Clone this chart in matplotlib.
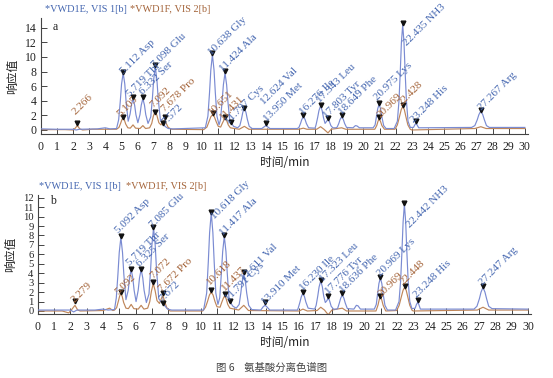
import matplotlib
matplotlib.use("Agg")
import matplotlib.pyplot as plt

# ---------------- data ----------------
# Panel a, VIS 1 (blue) trace: (time min, response)
a_blue = [(0, 0.15), (1, 0.1), (2, 0.1), (2.2, 0.0), (2.4, 0.1), (3.5, 0.15), (4.0, 0.3), (4.3, 0.15), (4.7, 0.2),
          (4.83, 1.4), (4.93, 3.9), (5.01, 6.3), (5.11, 7.8), (5.21, 6.3), (5.29, 3.9), (5.42, 1.2),
          (5.54, 2.2), (5.62, 3.4), (5.72, 4.3), (5.82, 3.4), (5.9, 2.1), (6.02, 1.0),
          (6.15, 2.1), (6.23, 3.4), (6.33, 4.3), (6.43, 3.4), (6.51, 2.1), (6.65, 0.9),
          (6.82, 1.8), (6.92, 4.3), (7.0, 6.9), (7.10, 8.6), (7.2, 6.9), (7.28, 4.3), (7.42, 1.3),
          (7.57, 0.95), (7.7, 0.5), (7.9, 0.2), (8.2, 0.15), (10.2, 0.3),
          (10.36, 1.9), (10.46, 5.1), (10.54, 8.2), (10.64, 10.3), (10.74, 8.2), (10.82, 5.1), (10.92, 1.9),
          (11.05, 0.7), (11.14, 1.4), (11.24, 3.9), (11.32, 6.2), (11.42, 7.8), (11.52, 6.2), (11.6, 3.9),
          (11.7, 1.6), (11.8, 1.0), (11.95, 0.5), (12.2, 0.3),
          (12.34, 0.6), (12.44, 1.5), (12.52, 2.4), (12.62, 3.0), (12.72, 2.4), (12.8, 1.5), (12.92, 0.5),
          (13.1, 0.2), (13.7, 0.2), (13.85, 0.45), (13.95, 0.6), (14.05, 0.45), (14.2, 0.2), (15.9, 0.2),
          (16.0, 0.35), (16.1, 0.9), (16.18, 1.45), (16.28, 1.8), (16.38, 1.45), (16.46, 0.9), (16.6, 0.3),
          (17.0, 0.25), (17.06, 0.7), (17.16, 1.7), (17.24, 2.65), (17.34, 3.3), (17.44, 2.65), (17.52, 1.7),
          (17.62, 0.9), (17.72, 1.2), (17.80, 1.5), (17.88, 1.2), (17.98, 0.6), (18.1, 0.3), (18.3, 0.3),
          (18.37, 0.4), (18.47, 0.9), (18.55, 1.45), (18.65, 1.8), (18.75, 1.45), (18.83, 0.9), (18.95, 0.35),
          (19.35, 0.3), (19.5, 0.6), (19.6, 0.55), (19.75, 0.3), (20.6, 0.3),
          (20.72, 0.7), (20.8, 1.8), (20.88, 2.9), (20.97, 3.5), (21.06, 2.9), (21.14, 1.8), (21.25, 0.6),
          (21.4, 0.2), (21.9, 0.2),
          (22.1, 1.2), (22.2, 4.0), (22.28, 8.0), (22.35, 12.0), (22.43, 14.4), (22.51, 12.0), (22.58, 8.0),
          (22.66, 4.0), (22.76, 1.2), (22.9, 0.35),
          (23.1, 0.35), (23.18, 0.7), (23.25, 0.9), (23.32, 0.7), (23.42, 0.3), (26.7, 0.35),
          (26.9, 0.6), (27.05, 1.4), (27.15, 2.1), (27.27, 2.6), (27.39, 2.1), (27.49, 1.4), (27.62, 0.6),
          (27.8, 0.35), (30, 0.35)]

# Panel a, VIS 2 (brown) trace
a_brown = [(0, 0.05), (1.5, 0.05), (2.0, 0.0), (2.12, 0.2), (2.27, 0.6), (2.42, 0.15), (2.6, 0.0), (3.2, 0.1),
           (4.0, 0.1), (4.7, 0.1),
           (4.85, 0.35), (4.95, 0.9), (5.03, 1.4), (5.1, 1.7), (5.18, 1.4), (5.27, 0.8), (5.4, 0.3),
           (5.55, 0.25), (5.72, 0.7), (5.88, 0.25), (6.15, 0.2), (6.33, 0.6), (6.5, 0.2),
           (6.75, 0.3), (6.88, 0.9), (6.98, 1.9), (7.09, 2.6), (7.2, 2.0), (7.32, 1.0), (7.45, 0.7),
           (7.6, 1.2), (7.68, 1.4), (7.78, 0.9), (7.9, 0.35), (8.1, 0.1), (10.1, 0.05),
           (10.3, 0.4), (10.42, 1.1), (10.54, 1.8), (10.65, 2.1), (10.76, 1.8), (10.88, 1.1), (11.0, 0.5),
           (11.15, 0.4), (11.25, 0.9), (11.35, 1.35), (11.43, 1.6), (11.52, 1.3), (11.62, 0.7), (11.75, 0.3),
           (12.3, 0.1), (12.62, 0.5), (12.9, 0.1), (16.0, 0.1), (16.27, 0.25), (16.5, 0.1),
           (17.1, 0.1), (17.34, 0.45), (17.55, 0.1), (17.8, -0.4), (18.0, 0.1), (18.65, 0.3), (18.9, 0.1),
           (20.7, 0.1), (20.82, 0.6), (20.9, 1.2), (20.97, 1.5), (21.05, 1.2), (21.14, 0.6), (21.3, 0.1),
           (21.95, 0.1), (22.1, 0.7), (22.24, 1.9), (22.34, 2.8), (22.43, 3.2), (22.53, 2.8), (22.62, 1.9),
           (22.75, 0.7), (22.9, 0.1), (23.0, 0.0), (26.9, 0.2), (27.27, 0.45), (27.6, 0.2), (30, 0.2)]

# Panel b, VIS 1 (blue) trace
b_blue = [(0, 0.1), (1, 0.1), (2, 0.1), (2.2, -0.1), (2.4, 0.1), (3.5, 0.1), (4.0, 0.2), (4.3, 0.1), (4.7, 0.15),
          (4.81, 1.4), (4.91, 3.9), (4.99, 6.2), (5.09, 7.8), (5.19, 6.2), (5.27, 3.9), (5.4, 1.2),
          (5.54, 2.2), (5.62, 3.5), (5.72, 4.4), (5.82, 3.5), (5.9, 2.2), (6.02, 1.0),
          (6.15, 2.2), (6.23, 3.5), (6.33, 4.4), (6.43, 3.5), (6.51, 2.2), (6.65, 0.9),
          (6.81, 1.8), (6.91, 4.4), (6.99, 7.0), (7.09, 8.8), (7.19, 7.0), (7.27, 4.4), (7.41, 1.3),
          (7.6, 0.85), (7.67, 0.9), (7.8, 0.5), (7.95, 0.2), (8.2, 0.1), (10.15, 0.1),
          (10.34, 1.9), (10.44, 5.2), (10.52, 8.3), (10.62, 10.4), (10.72, 8.3), (10.8, 5.2), (10.9, 1.9),
          (11.03, 0.7), (11.14, 1.4), (11.24, 4.0), (11.32, 6.3), (11.42, 7.9), (11.52, 6.3), (11.6, 4.0),
          (11.7, 1.5), (11.79, 0.9), (11.95, 0.5), (12.15, 0.3),
          (12.33, 0.7), (12.43, 1.9), (12.51, 3.1), (12.61, 3.9), (12.71, 3.1), (12.79, 1.9), (12.91, 0.6),
          (13.1, 0.15), (13.65, 0.1), (13.8, 0.45), (13.91, 0.6), (14.02, 0.45), (14.2, 0.1), (15.9, 0.1),
          (15.95, 0.35), (16.05, 0.95), (16.13, 1.5), (16.23, 1.9), (16.33, 1.5), (16.41, 0.95), (16.55, 0.3),
          (16.95, 0.2), (17.04, 0.6), (17.14, 1.6), (17.22, 2.55), (17.32, 3.2), (17.42, 2.55), (17.5, 1.6),
          (17.6, 0.9), (17.7, 1.1), (17.78, 1.4), (17.86, 1.1), (17.96, 0.5), (18.1, 0.2), (18.3, 0.2),
          (18.36, 0.3), (18.46, 0.85), (18.54, 1.35), (18.64, 1.7), (18.74, 1.35), (18.82, 0.85), (18.95, 0.25),
          (19.35, 0.2), (19.5, 0.6), (19.6, 0.55), (19.75, 0.2), (20.6, 0.2),
          (20.72, 0.7), (20.8, 1.8), (20.88, 2.9), (20.97, 3.5), (21.06, 2.9), (21.14, 1.8), (21.25, 0.6),
          (21.4, 0.1), (21.9, 0.1),
          (22.11, 1.0), (22.21, 3.2), (22.29, 6.3), (22.36, 9.4), (22.44, 11.3), (22.52, 9.4), (22.59, 6.3),
          (22.67, 3.2), (22.77, 1.0), (22.9, 0.25),
          (23.1, 0.3), (23.18, 0.7), (23.25, 0.9), (23.32, 0.7), (23.42, 0.2), (26.7, 0.2),
          (26.88, 0.5), (27.03, 1.3), (27.13, 2.0), (27.25, 2.5), (27.37, 2.0), (27.47, 1.3), (27.6, 0.5),
          (27.8, 0.25), (30, 0.2)]

# Panel b, VIS 2 (brown) trace
b_brown = [(0, 0.0), (1.5, 0.0), (1.9, -0.2), (2.1, 0.2), (2.28, 0.6), (2.45, 0.1), (2.6, 0.0), (4.0, 0.05),
           (4.4, 0.3), (4.6, 0.05), (4.7, 0.1),
           (4.83, 0.35), (4.93, 1.0), (5.01, 1.55), (5.09, 1.9), (5.17, 1.55), (5.26, 0.9), (5.4, 0.3),
           (5.55, 0.25), (5.72, 0.7), (5.88, 0.25), (6.15, 0.2), (6.33, 0.6), (6.5, 0.2),
           (6.73, 0.3), (6.86, 1.0), (6.96, 2.1), (7.07, 2.9), (7.18, 2.2), (7.3, 1.1), (7.45, 0.8),
           (7.59, 1.4), (7.67, 1.6), (7.77, 1.0), (7.9, 0.35), (8.1, 0.0), (10.1, 0.0),
           (10.27, 0.4), (10.39, 1.0), (10.51, 1.7), (10.62, 2.0), (10.73, 1.7), (10.85, 1.0), (10.97, 0.45),
           (11.16, 0.4), (11.26, 0.9), (11.36, 1.35), (11.44, 1.6), (11.53, 1.3), (11.63, 0.7), (11.76, 0.3),
           (12.3, 0.1), (12.61, 0.6), (12.9, 0.05), (16.0, 0.0), (16.23, 0.2), (16.5, 0.0),
           (17.1, 0.05), (17.32, 0.4), (17.55, 0.1), (17.78, -0.4), (18.0, 0.1), (18.64, 0.3), (18.9, 0.0),
           (20.7, 0.0), (20.82, 0.6), (20.9, 1.2), (20.97, 1.5), (21.05, 1.2), (21.14, 0.6), (21.3, 0.0),
           (21.97, 0.05), (22.12, 0.6), (22.26, 1.55), (22.36, 2.2), (22.45, 2.5), (22.55, 2.2), (22.64, 1.55),
           (22.77, 0.6), (22.92, 0.05), (23.0, 0.0), (26.9, 0.1), (27.25, 0.4), (27.6, 0.1), (30, 0.1)]

# Marked peaks (retention time, marker height, label)
a_blue_rt = [5.112, 5.719, 6.332, 7.098, 7.572, 10.638, 11.424, 11.797, 12.624, 13.950, 16.276, 17.343,
             17.803, 18.649, 20.975, 22.435, 23.248, 27.267]
a_blue_mk = [7.9, 4.5, 4.5, 8.85, 0.9, 10.5, 8.1, 1.1, 3.0, 1.0, 2.05, 3.4, 1.7, 2.0, 3.65, 14.6, 1.2, 2.7]
a_blue_lab = ["5.112 Asp", "5.719 Thr", "6.332 Ser", "7.098 Glu", "7.572", "10.638 Gly", "11.424 Ala",
              "11.797 Cys", "12.624 Val", "13.950 Met", "16.276 Ile", "17.343 Leu", "17.803 Tyr",
              "18.649 Phe", "20.975 Lys", "22.435 NH3", "23.248 His", "27.267 Arg"]
a_brown_rt = [2.266, 5.105, 7.092, 7.678, 10.651, 11.431, 20.969, 22.428]
a_brown_mk = [0.95, 1.8, 2.4, 1.8, 2.3, 1.8, 1.75, 3.4]
a_brown_lab = ["2.266", "5.105", "7.092", "7.678 Pro", "10.651", "11.431", "20.969", "22.428"]

b_blue_rt = [5.092, 5.719, 6.325, 7.085, 7.672, 10.618, 11.417, 11.791, 12.611, 13.910, 16.230, 17.323,
             17.776, 18.636, 20.969, 22.442, 23.248, 27.247]
b_blue_mk = [7.9, 4.5, 4.5, 8.9, 0.9, 10.5, 8.0, 1.1, 4.1, 1.0, 2.05, 3.3, 1.6, 1.9, 3.6, 11.4, 1.15, 2.6]
b_blue_lab = ["5.092 Asp", "5.719 Thr", "6.325 Ser", "7.085 Glu", "7.672", "10.618 Gly", "11.417 Ala",
              "11.791 Cys", "12.611 Val", "13.910 Met", "16.230 Ile", "17.323 Leu", "17.776 Tyr",
              "18.636 Phe", "20.969 Lys", "22.442 NH3", "23.248 His", "27.247 Arg"]
b_brown_rt = [2.279, 5.092, 7.072, 7.672, 10.618, 11.437, 20.969, 22.448]
b_brown_mk = [1.05, 2.05, 3.1, 1.9, 2.2, 1.75, 1.6, 2.6]
b_brown_lab = ["2.279", "5.092", "7.072", "7.672 Pro", "10.618", "11.437", "20.969", "22.448"]

x_ticks = list(range(0, 31))
a_y_ticks = list(range(0, 15, 2))
b_y_ticks = list(range(0, 13))

# ---------------- layout / style ----------------
W, H = 553, 378
BLUE_LINE = "#7a8bd2"
BROWN_LINE = "#bf865a"
BLUE_TXT = "#4466b0"
BROWN_TXT = "#a4643a"
SERIF = ["Liberation Serif", "DejaVu Serif"]
CJK = ["Noto Sans CJK SC", "DejaVu Sans"]

# label offsets in pixels (dx, dy) relative to the marker
a_blue_off = [(0, -2), (-3, 0), (0, 2), (0, -3), (2, -2), (-1, -2), (-2, -1), (-3, -3), (20, 3), (1, 1),
              (0, 0), (-1, 2), (-1, -1), (0, 0), (-2, 3), (4, -23), (-2, -2), (1, 0)]
a_brown_off = [(-2, 8), (-3, 0), (-2, 4), (0, 5), (-1, -2), (-2, -3), (1, -1), (-1, -1)]
b_blue_off = [(-2, 3), (-1, 3), (-1, 2), (0, -1), (-1, 1), (3, -8), (-1, -1), (-2, -1), (0, -9), (0, -3),
              (0, 1), (2, -2), (0, 1), (1, 0), (0, 0), (6, -25), (-1, 2), (0, 1)]
b_brown_off = [(0, -2), (-3, -3), (0, 3), (-1, 1), (-1, 5), (0, 3), (1, -1), (-1, 1)]

plt.rcParams["font.family"] = SERIF
plt.rcParams["font.size"] = 8

fig = plt.figure(figsize=(W / 100, H / 100), dpi=100)
fig.patch.set_facecolor("white")


def px_rect(left, top, width, bottom):
    return [left / W, 1 - bottom / H, width / W, (bottom - top) / H]


def draw_panel(ax, blue, brown, blue_rt, blue_mk, blue_lab, blue_off,
               brown_rt, brown_mk, brown_lab, brown_off, yticks, ylim, letter, letter_y, ytick_size, xlab_pad):
    bt, bv = zip(*blue)
    rt_t, rt_v = zip(*brown)
    ax.plot(rt_t, rt_v, color=BROWN_LINE, lw=0.85, zorder=2)
    ax.plot(bt, bv, color=BLUE_LINE, lw=0.85, zorder=3)
    ax.plot(blue_rt, blue_mk, linestyle="none", marker="v", color="#111111", ms=3.4, zorder=5)
    ax.plot(brown_rt, brown_mk, linestyle="none", marker="v", color="#111111", ms=3.4, zorder=5)
    for x, y, s, (dx, dy) in zip(blue_rt, blue_mk, blue_lab, blue_off):
        ax.annotate(s, (x, y), xytext=(dx, dy), textcoords="offset pixels", rotation=45,
                    rotation_mode="anchor", ha="left", va="baseline", color=BLUE_TXT, fontsize=8, zorder=6)
    for x, y, s, (dx, dy) in zip(brown_rt, brown_mk, brown_lab, brown_off):
        ax.annotate(s, (x, y), xytext=(dx, dy), textcoords="offset pixels", rotation=45,
                    rotation_mode="anchor", ha="left", va="baseline", color=BROWN_TXT, fontsize=8, zorder=6)
    ax.set_xlim(0, 30.2)
    ax.set_ylim(*ylim)
    ax.set_xticks(x_ticks)
    ax.set_yticks(yticks)
    for sp in ["top", "right"]:
        ax.spines[sp].set_visible(False)
    for sp in ["left", "bottom"]:
        ax.spines[sp].set_color("#444444")
        ax.spines[sp].set_linewidth(0.8)
    ax.tick_params(direction="in", length=4, width=0.7, color="#444444", labelsize=8.5,
                   labelcolor="#222222", pad=3)
    ax.tick_params(axis="y", labelsize=ytick_size)
    ax.tick_params(axis="x", pad=5)
    ax.set_ylabel("响应值", family=CJK, fontsize=8.5, color="#222222", labelpad=4)
    ax.set_xlabel("时间/min", family=CJK, fontsize=8.5, color="#222222", labelpad=xlab_pad)
    ax.text(0.025, letter_y, letter, transform=ax.transAxes, fontsize=8.5, color="#222222", va="center")


ax_a = fig.add_axes(px_rect(40.7, 18, 487.4, 134))
draw_panel(ax_a, a_blue, a_brown, a_blue_rt, a_blue_mk, a_blue_lab, a_blue_off,
           a_brown_rt, a_brown_mk, a_brown_lab, a_brown_off, a_y_ticks, (-0.55, 15.34), "a", 0.92, 8.5, 2)

ax_b = fig.add_axes(px_rect(37.7, 195, 493.5, 314.3))
draw_panel(ax_b, b_blue, b_brown, b_blue_rt, b_blue_mk, b_blue_lab, b_blue_off,
           b_brown_rt, b_brown_mk, b_brown_lab, b_brown_off, b_y_ticks, (-0.35, 12.29), "b", 0.95, 7.6, 2)

# Channel names
fig.text(45 / W, 1 - 10 / H, "*VWD1E, VIS 1[b]", color=BLUE_TXT, fontsize=7.4, va="center")
fig.text(130 / W, 1 - 10 / H, "*VWD1F, VIS 2[b]", color=BROWN_TXT, fontsize=7.4, va="center")
fig.text(39 / W, 1 - 187 / H, "*VWD1E, VIS 1[b]", color=BLUE_TXT, fontsize=7.4, va="center")
fig.text(126 / W, 1 - 187 / H, "*VWD1F, VIS 2[b]", color=BROWN_TXT, fontsize=7.4, va="center")

# Caption
fig.text(272 / W, 1 - 368 / H, "图 6    氨基酸分离色谱图", family=CJK, fontsize=7.5, color="#444444",
         ha="center", va="center")

fig.savefig("out.png", dpi=100, facecolor="white")
